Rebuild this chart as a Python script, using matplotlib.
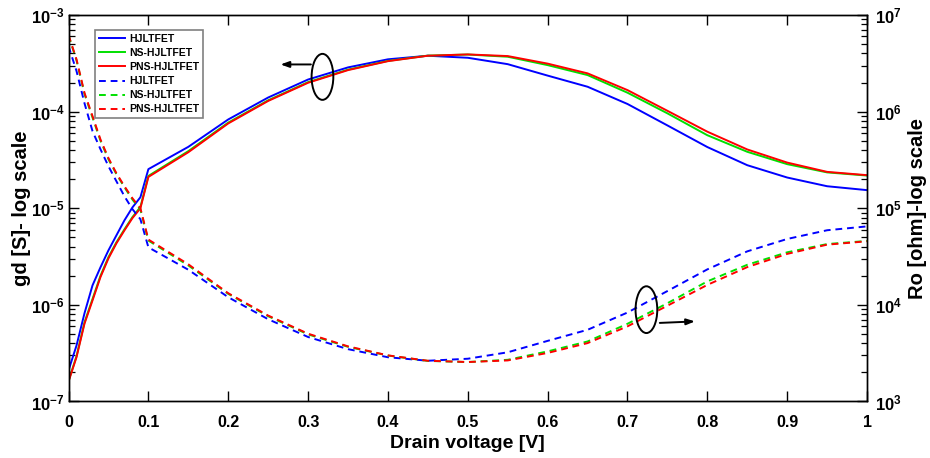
import math
import matplotlib
matplotlib.use("Agg")
import matplotlib.pyplot as plt
from matplotlib.patches import Ellipse
from matplotlib.ticker import FixedLocator, LogLocator, FuncFormatter, NullFormatter

plt.rcParams['font.family'] = ['Liberation Sans', 'DejaVu Sans']
plt.rcParams['font.weight'] = 'bold'
plt.rcParams['mathtext.fontset'] = 'custom'
plt.rcParams['mathtext.rm'] = 'Liberation Sans:bold'
plt.rcParams['mathtext.it'] = 'Liberation Sans:bold'
plt.rcParams['mathtext.bf'] = 'Liberation Sans:bold'

# Drain voltage [V]
vd = [0.0, 0.01, 0.02, 0.03, 0.04, 0.05, 0.06, 0.07, 0.08, 0.09, 0.10,
      0.15, 0.20, 0.25, 0.30, 0.35, 0.40, 0.45, 0.50, 0.55, 0.60,
      0.65, 0.70, 0.75, 0.80, 0.85, 0.90, 0.95, 1.00]

# Output conductance gd [S]
gd_hj = [2.1e-7, 3.8e-7, 8.2e-7, 1.59e-6, 2.45e-6, 3.67e-6, 5.25e-6, 7.5e-6, 1.02e-5, 1.30e-5, 2.54e-5,
         4.32e-5, 8.3e-5, 1.40e-4, 2.15e-4, 2.87e-4, 3.48e-4, 3.79e-4, 3.61e-4, 3.10e-4, 2.36e-4,
         1.81e-4, 1.20e-4, 7.2e-5, 4.3e-5, 2.79e-5, 2.08e-5, 1.69e-5, 1.54e-5]
gd_ns = [1.63e-7, 2.95e-7, 6.6e-7, 1.15e-6, 2.0e-6, 3.12e-6, 4.45e-6, 6.05e-6, 8.1e-6, 1.03e-5, 2.16e-5,
         3.9e-5, 7.7e-5, 1.31e-4, 2.02e-4, 2.72e-4, 3.35e-4, 3.80e-4, 3.90e-4, 3.70e-4, 3.03e-4,
         2.39e-4, 1.57e-4, 9.6e-5, 5.7e-5, 3.84e-5, 2.86e-5, 2.35e-5, 2.18e-5]
gd_pns = [1.61e-7, 2.88e-7, 6.4e-7, 1.11e-6, 1.94e-6, 3.03e-6, 4.34e-6, 5.9e-6, 7.9e-6, 1.0e-5, 2.11e-5,
          3.8e-5, 7.55e-5, 1.29e-4, 1.99e-4, 2.69e-4, 3.33e-4, 3.79e-4, 3.91e-4, 3.76e-4, 3.14e-4,
          2.49e-4, 1.67e-4, 1.02e-4, 6.2e-5, 4.06e-5, 2.97e-5, 2.38e-5, 2.20e-5]

# Output resistance Ro [ohm]
ro_hj = [4.76e6, 2.63e6, 1.22e6, 6.29e5, 4.08e5, 2.72e5, 1.90e5, 1.33e5, 9.8e4, 7.7e4, 3.94e4,
         2.31e4, 1.20e4, 7.1e3, 4.65e3, 3.48e3, 2.87e3, 2.64e3, 2.77e3, 3.23e3, 4.24e3,
         5.52e3, 8.33e3, 1.39e4, 2.33e4, 3.58e4, 4.81e4, 5.92e4, 6.49e4]
ro_ns = [6.13e6, 3.39e6, 1.52e6, 8.7e5, 5.0e5, 3.21e5, 2.25e5, 1.65e5, 1.23e5, 9.7e4, 4.63e4,
         2.56e4, 1.30e4, 7.63e3, 4.95e3, 3.68e3, 2.99e3, 2.63e3, 2.56e3, 2.70e3, 3.30e3,
         4.18e3, 6.37e3, 1.04e4, 1.75e4, 2.60e4, 3.50e4, 4.26e4, 4.59e4]
ro_pns = [6.21e6, 3.47e6, 1.56e6, 9.0e5, 5.15e5, 3.30e5, 2.30e5, 1.69e5, 1.27e5, 1.0e5, 4.74e4,
          2.63e4, 1.32e4, 7.75e3, 5.03e3, 3.72e3, 3.0e3, 2.64e3, 2.56e3, 2.66e3, 3.18e3,
          4.02e3, 5.99e3, 9.8e3, 1.61e4, 2.46e4, 3.37e4, 4.20e4, 4.55e4]

labels = ['HJLTFET', 'NS-HJLTFET', 'PNS-HJLTFET']
colors = ['#0000ff', '#00e000', '#ff0000']
xticks = [0, 0.1, 0.2, 0.3, 0.4, 0.5, 0.6, 0.7, 0.8, 0.9, 1]
xticklabels = ['0', '0.1', '0.2', '0.3', '0.4', '0.5', '0.6', '0.7', '0.8', '0.9', '1']

fig = plt.figure(figsize=(9.3, 4.58), dpi=100)
ax = fig.add_axes([0.0737, 0.1234, 0.8586, 0.8438])
ax2 = ax.twinx()

handles = []
for g, c, l in zip([gd_hj, gd_ns, gd_pns], colors, labels):
    h, = ax.plot(vd, g, color=c, lw=1.4, label=l)
    handles.append(h)
for r, c, l in zip([ro_hj, ro_ns, ro_pns], colors, labels):
    h, = ax2.plot(vd, r, color=c, lw=1.4, ls=(0, (3.5, 2.5)), label=l)
    handles.append(h)

ax.set_yscale('log')
ax2.set_yscale('log')
ax.set_xlim(0, 1)
ax.set_ylim(1e-7, 1e-3)
ax2.set_ylim(1e3, 1e7)

fmt = FuncFormatter(lambda v, p: r'$\mathbf{10^{%d}}$' % round(math.log10(v)))
for a, pd in ((ax, 3), (ax2, 6)):
    a.yaxis.set_major_locator(LogLocator(base=10, numticks=10))
    a.yaxis.set_minor_locator(LogLocator(base=10, subs=range(2, 10), numticks=100))
    a.yaxis.set_major_formatter(fmt)
    a.yaxis.set_minor_formatter(NullFormatter())
    a.tick_params(axis='y', which='major', direction='in', length=7, width=1, labelsize=12, pad=pd)
    a.tick_params(axis='y', which='minor', direction='in', length=4, width=0.9)
    for s in a.spines.values():
        s.set_linewidth(1.0)

ax.xaxis.set_major_locator(FixedLocator(xticks))
ax.set_xticklabels(xticklabels)
ax.xaxis.set_ticks_position('both')
ax.tick_params(axis='x', which='major', direction='in', length=7, width=1, labelsize=11.5, pad=10)

ax.set_xlabel('Drain voltage [V]', fontsize=14, fontweight='bold')
ax.set_ylabel('gd [S]- log scale', fontsize=14.5, fontweight='bold')
ax2.set_ylabel('Ro [ohm]-log scale', fontsize=14.5, fontweight='bold')
ax.xaxis.set_label_coords(0.5, -0.110)
ax.xaxis.label.set_va('center')
ax.yaxis.set_label_coords(-0.0583, 0.5)
ax.yaxis.label.set_va('center')
ax2.yaxis.set_label_coords(1.0633, 0.5)
ax2.yaxis.label.set_va('center')

leg = ax2.legend(handles=handles, loc='upper left', bbox_to_anchor=(95 / 930, 1 - 30 / 458),
                 bbox_transform=fig.transFigure, borderaxespad=0,
                 prop={'weight': 'bold', 'size': 7.5}, fancybox=False, framealpha=1,
                 edgecolor='#808080', labelspacing=0.4, handlelength=2.5, handletextpad=0.45,
                 borderpad=0.35)
leg.get_frame().set_linewidth(1.2)

# annotations
ax2.add_patch(Ellipse((0.318, 0.840), 0.0272, 0.119, transform=ax.transAxes,
                      fill=False, ec='black', lw=1.4, zorder=5))
ax2.annotate('', xy=(0.262, 0.8721), xytext=(0.307, 0.8721), xycoords='axes fraction',
             textcoords='axes fraction',
             arrowprops=dict(arrowstyle='-|>,head_length=0.5,head_width=0.18', color='black', lw=1.4))
ax2.add_patch(Ellipse((0.7237, 0.2376), 0.0272, 0.121, transform=ax.transAxes,
                      fill=False, ec='black', lw=1.4, zorder=5))
ax2.annotate('', xy=(0.788, 0.2075), xytext=(0.737, 0.2030), xycoords='axes fraction',
             textcoords='axes fraction',
             arrowprops=dict(arrowstyle='-|>,head_length=0.5,head_width=0.18', color='black', lw=1.4))

fig.savefig('out.png', dpi=100)
